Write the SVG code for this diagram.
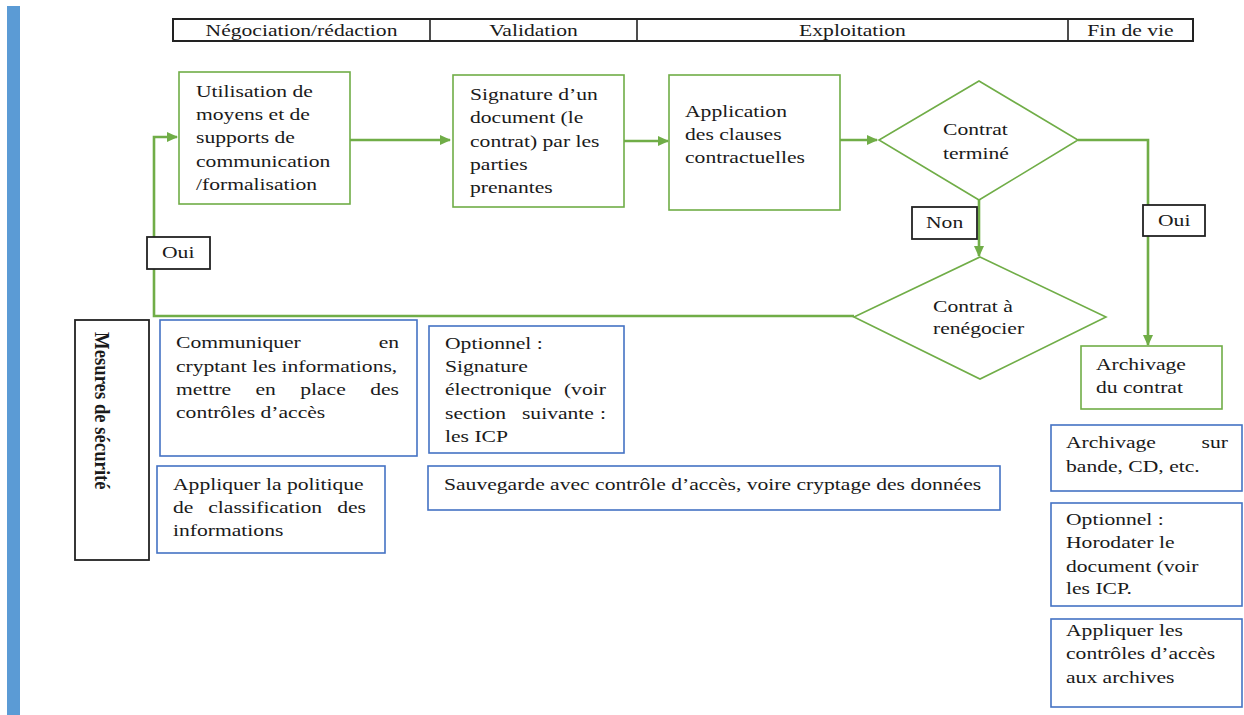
<svg xmlns="http://www.w3.org/2000/svg" width="1244" height="715" viewBox="0 0 1244 715">
<defs>
<style>
.t{font-family:"Liberation Serif","Times New Roman",serif;font-size:16px;fill:#1a1a1a}
.tb{font-family:"Liberation Serif","Times New Roman",serif;font-size:16px;font-weight:bold;fill:#1a1a1a}
.g{fill:#fff;stroke:#70AD47;stroke-width:1.6}
.b{fill:#fff;stroke:#4472C4;stroke-width:1.6}
.k{fill:#fff;stroke:#222;stroke-width:1.8}
.c{fill:none;stroke:#70AD47;stroke-width:2.6}
.m{text-anchor:middle}
</style>
<marker id="ah" markerUnits="userSpaceOnUse" markerWidth="11" markerHeight="10" refX="10" refY="5" orient="auto">
<path d="M0,0 L11,5 L0,10 z" fill="#70AD47"/>
</marker>
</defs>
<rect width="1244" height="715" fill="#fff"/>
<rect x="7" y="6" width="13" height="709" fill="#5B9BD5"/>

<g id="header">
<rect x="173" y="19" width="1020" height="22" fill="#fff" stroke="#222" stroke-width="2"/>
<line x1="430" y1="19" x2="430" y2="41" stroke="#222" stroke-width="1.6"/>
<line x1="637" y1="19" x2="637" y2="41" stroke="#222" stroke-width="1.6"/>
<line x1="1068" y1="19" x2="1068" y2="41" stroke="#222" stroke-width="1.6"/>
<text class="t m" transform="translate(301.5,36) scale(1.35 1)">Négociation/rédaction</text>
<text class="t m" transform="translate(533.5,36) scale(1.35 1)">Validation</text>
<text class="t m" transform="translate(852.5,36) scale(1.35 1)">Exploitation</text>
<text class="t m" transform="translate(1130.5,36) scale(1.35 1)">Fin de vie</text>
</g>

<g id="connectors">
<line class="c" x1="346" y1="140" x2="450" y2="140" marker-end="url(#ah)"/>
<line class="c" x1="624" y1="141" x2="668" y2="141" marker-end="url(#ah)"/>
<line class="c" x1="840" y1="140" x2="877" y2="140" marker-end="url(#ah)"/>
<path class="c" d="M854,316 H154 V137 H177" marker-end="url(#ah)"/>
<path class="c" d="M979,200 V256" marker-end="url(#ah)"/>
<path class="c" d="M1078,140 H1148 V345" marker-end="url(#ah)"/>
</g>

<g id="n-utilisation">
<rect class="g" x="179" y="72" width="171" height="132"/>
<text class="t" transform="translate(196,97) scale(1.35 1)"><tspan x="0" y="0">Utilisation de</tspan><tspan x="0" y="23.3">moyens et de</tspan><tspan x="0" y="46.5">supports de</tspan><tspan x="0" y="69.8">communication</tspan><tspan x="0" y="93">/formalisation</tspan></text>
</g>

<g id="n-signature">
<rect class="g" x="453" y="75" width="171" height="132"/>
<text class="t" transform="translate(470,100) scale(1.35 1)"><tspan x="0" y="0">Signature d’un</tspan><tspan x="0" y="23.3">document (le</tspan><tspan x="0" y="46.6">contrat) par les</tspan><tspan x="0" y="70">parties</tspan><tspan x="0" y="93">prenantes</tspan></text>
</g>

<g id="n-application">
<rect class="g" x="669" y="75" width="171" height="135"/>
<text class="t" transform="translate(685,116.7) scale(1.35 1)"><tspan x="0" y="0">Application</tspan><tspan x="0" y="23.3">des clauses</tspan><tspan x="0" y="46.6">contractuelles</tspan></text>
</g>

<g id="n-termine">
<polygon class="g" points="979,81 1078,140 979,200 879,140"/>
<text class="t" transform="translate(943,135) scale(1.35 1)"><tspan x="0" y="0">Contrat</tspan><tspan x="0" y="24">terminé</tspan></text>
</g>

<g id="n-renegocier">
<polygon class="g" points="980,257 1106,317 980,379 854,317"/>
<text class="t" transform="translate(933,311.7) scale(1.35 1)"><tspan x="0" y="0">Contrat à</tspan><tspan x="0" y="22.5">renégocier</tspan></text>
</g>

<g id="n-archivage">
<rect class="g" x="1081" y="346" width="141" height="63"/>
<text class="t" transform="translate(1096,370) scale(1.35 1)"><tspan x="0" y="0">Archivage</tspan><tspan x="0" y="23">du contrat</tspan></text>
</g>

<g id="l-non">
<rect class="k" x="912" y="207" width="65" height="32"/>
<text class="t" transform="translate(926,228) scale(1.35 1)">Non</text>
</g>

<g id="l-oui-right">
<rect class="k" x="1143" y="205" width="62" height="31"/>
<text class="t" transform="translate(1158,226) scale(1.35 1)">Oui</text>
</g>

<g id="l-oui-left">
<rect class="k" x="147" y="237" width="63" height="32"/>
<text class="t" transform="translate(162,258) scale(1.35 1)">Oui</text>
</g>

<g id="n-mesures">
<rect class="k" x="75" y="320" width="74" height="240"/>
<text class="tb" transform="translate(95,332) rotate(90) scale(1.17 1.35)">Mesures de sécurité</text>
</g>

<g id="s-communiquer">
<rect class="b" x="160" y="320" width="257" height="136"/>
<text class="t" transform="translate(176,348.3) scale(1.35 1)"><tspan x="0" y="0">Communiquer</tspan><tspan x="150.1" y="0">en</tspan><tspan x="0" y="23.4">cryptant les informations,</tspan><tspan x="0" y="46.7">mettre</tspan><tspan x="58.9" y="46.7">en</tspan><tspan x="92" y="46.7">place</tspan><tspan x="143.8" y="46.7">des</tspan><tspan x="0" y="70">contrôles d’accès</tspan></text>
</g>

<g id="s-classification">
<rect class="b" x="157" y="466" width="228" height="87"/>
<text class="t" transform="translate(173,490) scale(1.35 1)"><tspan x="0" y="0">Appliquer la politique</tspan><tspan x="0" y="23">de</tspan><tspan x="26.1" y="23">classification</tspan><tspan x="121.6" y="23">des</tspan><tspan x="0" y="46">informations</tspan></text>
</g>

<g id="s-signature-elec">
<rect class="b" x="429" y="326" width="195" height="127"/>
<text class="t" transform="translate(445,349) scale(1.35 1)"><tspan x="0" y="0">Optionnel :</tspan><tspan x="0" y="23.3">Signature</tspan><tspan x="0" y="46.5">électronique</tspan><tspan x="88.1" y="46.5">(voir</tspan><tspan x="0" y="69.7">section</tspan><tspan x="57" y="69.7">suivante</tspan><tspan x="114.8" y="69.7">:</tspan><tspan x="0" y="92.7">les ICP</tspan></text>
</g>

<g id="s-sauvegarde">
<rect class="b" x="428" y="466" width="572" height="44"/>
<text class="t" transform="translate(444,490) scale(1.35 1)">Sauvegarde avec contrôle d’accès, voire cryptage des données</text>
</g>

<g id="s-bande">
<rect class="b" x="1051" y="425" width="191" height="66"/>
<text class="t" transform="translate(1066,448.3) scale(1.35 1)"><tspan x="0" y="0">Archivage</tspan><tspan x="100.4" y="0">sur</tspan><tspan x="0" y="23.4">bande, CD, etc.</tspan></text>
</g>

<g id="s-horodater">
<rect class="b" x="1051" y="503" width="191" height="103"/>
<text class="t" transform="translate(1066,525) scale(1.35 1)"><tspan x="0" y="0">Optionnel :</tspan><tspan x="0" y="23.3">Horodater le</tspan><tspan x="0" y="46.7">document (voir</tspan><tspan x="0" y="69">les ICP.</tspan></text>
</g>

<g id="s-archives">
<rect class="b" x="1051" y="619" width="191" height="88"/>
<text class="t" transform="translate(1066,636) scale(1.35 1)"><tspan x="0" y="0">Appliquer les</tspan><tspan x="0" y="23.3">contrôles d’accès</tspan><tspan x="0" y="46.6">aux archives</tspan></text>
</g>
</svg>
